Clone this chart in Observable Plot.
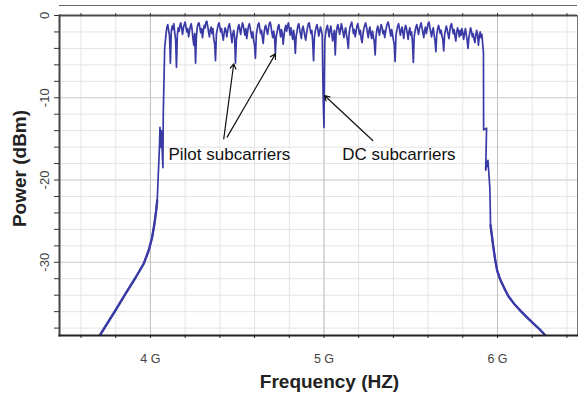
<!DOCTYPE html>
<html><head><meta charset="utf-8">
<script src="https://cdn.jsdelivr.net/npm/d3@7"></script>
<script src="https://cdn.jsdelivr.net/npm/@observablehq/plot@0.6"></script>
<style>
body{margin:0;background:#fff;}
svg{font-family:"Liberation Sans",Arial,sans-serif;}
</style></head><body><div id="chart"></div><script>
// ---- data (frequencies in GHz, power in dBm) ----
const leftEdgeGHz = [3.708, 3.798, 3.856, 3.914, 3.961, 3.990, 4.010, 4.023, 4.033, 4.039, 4.052, 4.055, 4.060, 4.063, 4.072, 4.074, 4.078, 4.082];
const leftEdgeDbm = [-38.9, -35.86, -33.83, -31.88, -30.18, -28.57, -26.95, -25.32, -23.71, -22.49, -16.0, -13.6, -16.0, -14.0, -18.5, -12.0, -8.0, -4.0];

const passbandStartGHz = 4.09;
const passbandStepGHz = 0.005;
const passbandDbm = [
  -2.2, -1.4, -1.1, -1.8, -2.5, -5.8, -2.0, -1.3, -1.7, -1.0, -2.1, -2.9, -6.3, -2.4, -1.5, -1.9, -1.2, -0.9, -1.6, -2.3,
  -1.5, -1.1, -0.8, -1.4, -2.0, -1.6, -2.6, -1.9, -1.3, -1.0, -1.7, -2.8, -3.6, -2.2, -5.8, -2.5, -1.4, -1.0, -0.9, -1.5,
  -2.1, -1.6, -2.7, -1.8, -1.2, -1.5, -0.8, -0.7, -1.3, -2.0, -2.6, -1.7, -1.4, -2.2, -1.6, -2.9, -3.4, -5.5, -2.3, -1.7,
  -1.2, -0.9, -1.4, -2.0, -1.6, -2.4, -3.0, -2.1, -1.5, -1.8, -2.6, -1.9, -1.3, -1.0, -1.6, -2.5, -3.3, -2.2, -1.8, -2.6,
  -5.8, -3.0, -2.2, -1.4, -1.1, -1.7, -2.3, -1.5, -0.9, -1.2, -1.9, -2.4, -1.6, -2.8, -2.0, -1.3, -1.0, -1.5, -2.2, -2.7,
  -2.0, -3.1, -3.6, -5.2, -2.4, -1.7, -1.1, -0.9, -1.5, -2.2, -1.8, -2.7, -3.4, -2.1, -1.4, -1.2, -1.8, -2.3, -1.6, -1.0,
  -0.8, -1.3, -2.1, -2.7, -1.9, -2.5, -4.6, -2.6, -2.0, -1.4, -1.1, -1.8, -2.6, -1.7, -2.2, -3.5, -2.4, -1.6, -1.2, -1.9,
  -1.3, -0.9, -1.6, -2.4, -1.5, -2.2, -2.9, -1.8, -2.7, -4.6, -2.5, -1.9, -1.2, -1.0, -1.7, -2.3, -2.8, -1.6, -1.3, -1.9,
  -2.5, -3.0, -2.1, -1.5, -1.0, -0.9, -1.6, -2.2, -1.8, -3.2, -5.5, -2.6, -1.9, -1.4, -1.1, -1.7, -2.5, -2.0, -1.4, -1.8,
  -2.4, -9.5, -13.6, -3.0, -2.1, -1.5, -1.2, -1.9, -2.6, -1.7, -1.3, -2.2, -3.1, -2.4, -1.8, -4.8, -2.3, -1.5, -1.1, -1.6,
  -2.3, -1.8, -1.0, -1.4, -2.1, -2.7, -1.9, -1.5, -2.4, -3.0, -4.0, -2.2, -1.4, -1.1, -0.8, -1.5, -2.2, -1.7, -2.6, -2.0,
  -1.3, -1.0, -1.6, -2.3, -1.8, -2.9, -3.3, -2.2, -1.6, -1.2, -0.9, -1.4, -2.0, -2.7, -1.8, -1.4, -2.3, -2.8, -1.9, -2.6,
  -3.2, -4.8, -2.5, -1.7, -1.3, -1.9, -2.4, -1.6, -1.1, -1.5, -2.2, -1.8, -2.7, -2.0, -1.4, -1.0, -0.8, -1.3, -1.9, -2.5,
  -1.7, -2.3, -3.0, -3.5, -5.6, -2.4, -1.8, -1.3, -1.0, -1.6, -2.4, -1.9, -1.4, -2.1, -2.8, -1.7, -1.2, -1.5, -2.2, -2.9,
  -1.9, -1.5, -2.4, -2.0, -3.3, -5.7, -2.6, -1.9, -1.4, -1.1, -1.7, -2.3, -1.6, -1.2, -0.9, -1.5, -2.1, -2.7, -1.8, -1.4,
  -2.2, -1.6, -1.0, -0.8, -1.4, -2.0, -2.6, -1.9, -1.5, -2.4, -3.1, -4.4, -2.3, -1.7, -1.2, -1.6, -2.2, -1.8, -2.5, -2.9,
  -4.3, -2.4, -1.8, -1.3, -1.7, -2.3, -2.8, -1.9, -1.2, -1.0, -1.6, -2.2, -1.7, -2.5, -3.1, -2.0, -1.5, -1.9, -2.6, -1.8,
  -2.4, -1.6, -2.1, -2.9, -2.2, -1.6, -2.3, -3.0, -4.0, -2.7, -2.1, -1.5, -1.9, -2.6, -2.2, -2.9, -3.3, -2.4, -1.8, -2.3,
  -3.6, -2.6, -2.0, -2.7, -2.3
];

const rightEdgeGHz = [5.919, 5.920, 5.937, 5.932, 5.945, 5.956, 5.960, 5.966, 5.975, 5.986, 5.998, 6.012, 6.027, 6.045, 6.065, 6.098, 6.133, 6.170, 6.209, 6.245, 6.277];
const rightEdgeDbm = [-4.5, -13.9, -13.7, -18.8, -17.6, -21.0, -25.5, -26.5, -28.0, -29.6, -31.0, -31.9, -32.6, -33.4, -34.2, -35.1, -35.9, -36.7, -37.5, -38.2, -38.9];

const xMinorTicks = [3.6, 3.8, 4.0, 4.2, 4.4, 4.6, 4.8, 5.0, 5.2, 5.4, 5.6, 5.8, 6.0, 6.2, 6.4];
const xMajorTicks = [4, 5, 6];
const xTickLabels = ["4 G", "5 G", "6 G"];
const yMinorTicks = [0, -2, -4, -6, -8, -10, -12, -14, -16, -18, -20, -22, -24, -26, -28, -30, -32, -34, -36, -38];
const yMajorTicks = [0, -10, -20, -30];
const yTickLabels = ["0", "-10", "-20", "-30"];

const xTitle = "Frequency (HZ)";
const yTitle = "Power (dBm)";

const noteText = ["Pilot subcarriers", "DC subcarriers"];
const noteX = [4.104, 5.105];
const noteY = [-16.9, -16.9];
const arrowFromX = [4.4225, 4.442, 5.281];
const arrowFromY = [-14.99, -14.79, -15.2];
const arrowToX = [4.480, 4.7205, 5.003];
const arrowToY = [-5.87, -4.66, -9.73];

// ---- build tables ----
const spectrum = [];
leftEdgeGHz.forEach((f, i) => spectrum.push({f, db: leftEdgeDbm[i]}));
passbandDbm.forEach((db, i) => spectrum.push({f: +(passbandStartGHz + i * passbandStepGHz).toFixed(4), db}));
rightEdgeGHz.forEach((f, i) => spectrum.push({f, db: rightEdgeDbm[i]}));
const skirts = spectrum.filter(d => d.db < -21 && (d.f < 4.045 || d.f > 5.955));

const notes = noteText.map((t, i) => ({t, x: noteX[i], y: noteY[i]}));
const arrows = arrowFromX.map((x, i) => ({x1: x, y1: arrowFromY[i], x2: arrowToX[i], y2: arrowToY[i]}));

const chart = Plot.plot({
  width: 578,
  height: 399,
  marginTop: 15,
  marginLeft: 59,
  marginRight: 1,
  marginBottom: 64,
  style: {fontFamily: "'Liberation Sans', Arial, sans-serif", background: "#fff"},
  x: {domain: [3.476, 6.461]},
  y: {domain: [-38.9, 0]},
  marks: [
    Plot.gridX(xMinorTicks, {stroke: "#e4e4e4", strokeOpacity: 1}),
    Plot.gridY(yMinorTicks, {stroke: "#e4e4e4", strokeOpacity: 1}),
    Plot.gridX(xMajorTicks, {stroke: "#c0c0c0", strokeOpacity: 1}),
    Plot.gridY(yMajorTicks.slice(1), {stroke: "#d2d2d2", strokeOpacity: 1}),
    Plot.line(spectrum, {x: "f", y: "db", stroke: "#3a3aa6", strokeWidth: 1.7, clip: true}),
    Plot.line(skirts, {x: "f", y: "db", z: d => d.f < 5 ? "L" : "R", stroke: "#3a3aa6", strokeWidth: 2.4, clip: true}),
    Plot.ruleY([yMajorTicks[0]], {stroke: "#4a4a4a", strokeWidth: 2}),
    Plot.frame({anchor: "top", stroke: "#666", strokeDasharray: "1,1", dy: -10}),
    Plot.frame({anchor: "left", stroke: "#444", strokeWidth: 2}),
    Plot.frame({anchor: "right", stroke: "#777", strokeDasharray: "1,1"}),
    Plot.frame({anchor: "bottom", stroke: "#222", strokeWidth: 2, strokeDasharray: "1.5,1"}),
    Plot.axisX({anchor: "top", ticks: xMinorTicks, tickSize: 3, tickFormat: () => "", label: null, stroke: "#333"}),
    Plot.axisX({anchor: "bottom", ticks: xMinorTicks, tickSize: 3, tickFormat: () => "", label: null, stroke: "#222"}),
    Plot.axisY({anchor: "left", ticks: yMinorTicks, tickSize: 5, tickFormat: () => "", label: null, stroke: "#333"}),
    Plot.text(xMajorTicks, {x: d => d, text: (d, i) => xTickLabels[i], frameAnchor: "bottom", lineAnchor: "middle", dy: 23, fontSize: 12.5, fill: "#444"}),
    Plot.text(yMajorTicks, {y: d => d, text: (d, i) => yTickLabels[i], frameAnchor: "left", textAnchor: "middle", lineAnchor: "middle", dx: -15, rotate: -90, fontSize: 13, fill: "#444"}),
    Plot.text([xTitle], {text: d => d, frameAnchor: "bottom", textAnchor: "middle", lineAnchor: "middle", dx: 11, dy: 46, fontSize: 19, fontWeight: "bold", fill: "#222"}),
    Plot.text([yTitle], {text: d => d, frameAnchor: "left", textAnchor: "middle", lineAnchor: "middle", dx: -40, dy: -7, rotate: -90, fontSize: 19, fontWeight: "bold", fill: "#222"}),
    Plot.arrow(arrows, {x1: "x1", y1: "y1", x2: "x2", y2: "y2", stroke: "#111", strokeWidth: 1.2, headLength: 7}),
    Plot.text(notes, {x: "x", y: "y", text: "t", textAnchor: "start", fontSize: 17, fill: "#111"})
  ]
});
document.getElementById("chart").appendChild(chart);
</script></body></html>
